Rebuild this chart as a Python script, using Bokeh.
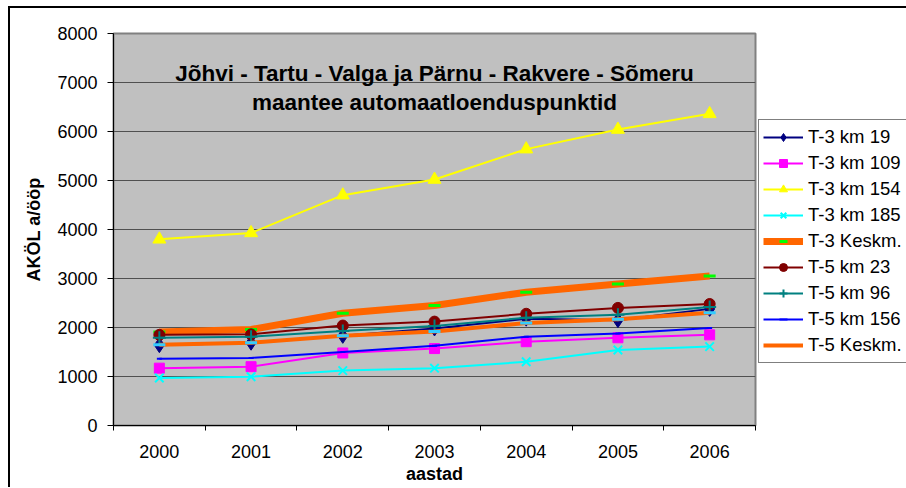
from bokeh.plotting import figure
from bokeh.models import (Legend, LegendItem, FixedTicker, Label, Range1d)
from bokeh.embed import file_html
from bokeh.resources import INLINE

years = [2000, 2001, 2002, 2003, 2004, 2005, 2006]
t3_km19 = [1640, 1690, 1830, 1980, 2180, 2150, 2380]
t3_km109 = [1170, 1200, 1480, 1570, 1710, 1790, 1850]
t3_km154 = [3800, 3930, 4700, 5020, 5640, 6040, 6360]
t3_km185 = [970, 995, 1120, 1170, 1300, 1540, 1610]
t3_kesk = [1910, 1960, 2290, 2450, 2720, 2890, 3050]
t5_km23 = [1850, 1860, 2040, 2120, 2280, 2400, 2480]
t5_km96 = [1790, 1810, 1930, 2030, 2200, 2260, 2420]
t5_km156 = [1360, 1380, 1500, 1630, 1810, 1880, 1990]
t5_kesk = [1650, 1690, 1830, 1920, 2090, 2170, 2300]

y_ticks = [0, 1000, 2000, 3000, 4000, 5000, 6000, 7000, 8000]
title_lines = ["Jõhvi - Tartu - Valga ja Pärnu - Rakvere - Sõmeru",
               "maantee automaatloenduspunktid"]
x_title = "aastad"
y_title = "AKÖL a/ööp"

FONT = "Liberation Sans"

p = figure(frame_width=642, frame_height=392, output_backend="svg", toolbar_location=None,
           x_range=Range1d(1999.5, 2006.5), y_range=Range1d(0, 8000),
           min_border_left=103, min_border_right=150, min_border_top=25,
           min_border_bottom=62)
p.styles = {"margin-left": "8px", "margin-top": "6px",
            "border-left": "2px solid black", "border-top": "2px solid black"}
p.background_fill_color = "#C0C0C0"
p.border_fill_color = "white"
p.outline_line_color = "#808080"
p.outline_line_width = 2

# axes
p.xaxis.ticker = FixedTicker(ticks=years, minor_ticks=[y - 0.5 for y in years] + [years[-1] + 0.5])
p.xaxis.major_tick_line_color = None
p.xaxis.major_tick_out = 0
p.xaxis.major_tick_in = 0
p.xaxis.minor_tick_out = 5
p.xaxis.minor_tick_in = 0
p.xaxis.minor_tick_line_color = "black"
p.xaxis.axis_line_color = "black"
p.xaxis.major_label_standoff = 14
p.xaxis.axis_label = x_title
p.xaxis.axis_label_standoff = 3

p.yaxis.ticker = FixedTicker(ticks=y_ticks)
p.yaxis.minor_tick_line_color = None
p.yaxis.major_tick_out = 6
p.yaxis.major_tick_in = 0
p.yaxis.major_label_standoff = 10
p.yaxis.axis_label = y_title
p.yaxis.axis_label_standoff = 10

for ax in (p.xaxis[0], p.yaxis[0]):
    ax.major_label_text_font = FONT
    ax.major_label_text_font_size = "18px"
    ax.major_label_text_color = "black"
    ax.axis_label_text_font = FONT
    ax.axis_label_text_font_size = "18px"
    ax.axis_label_text_font_style = "bold"
    ax.axis_label_text_color = "black"
    ax.axis_line_width = 1

p.xgrid.grid_line_color = None
p.ygrid.grid_line_color = "#505050"
p.ygrid.grid_line_width = 1.2

items = []

def series(label, vals, color, lw, marker=None, msize=10, mfill=True, mcolor=None, mlw=1, legend_marker=True):
    rs = []
    ln = p.line(years, vals, line_color=color, line_width=lw)
    rs.append(ln)
    if marker:
        mc = mcolor or color
        sc = p.scatter(years, vals, marker=marker, size=msize,
                       fill_color=mc if mfill else None, line_color=mc, line_width=mlw)
        if legend_marker:
            rs.append(sc)
    items.append(LegendItem(label=label, renderers=rs))

series("T-3 km 19", t3_km19, "#000080", 2, "diamond", 15)
series("T-3 km 109", t3_km109, "#FF00FF", 2, "square", 10)
series("T-3 km 154", t3_km154, "#FFFF00", 2, "triangle", 13)
series("T-3 km 185", t3_km185, "#00FFFF", 2, "x", 12, mfill=False, mlw=2)
series("T-3 Keskm.", t3_kesk, "#FF6600", 7, "dash", 12, mcolor="#00FF00", mlw=3)
series("T-5 km 23", t5_km23, "#800000", 2, "circle", 11)
series("T-5 km 96", t5_km96, "#008080", 2, "cross", 13, mfill=False, mlw=2)
series("T-5 km 156", t5_km156, "#0000FF", 2, "dash", 5, mlw=2)
series("T-5 Keskm.", t5_kesk, "#FF6600", 4, "dash", 12, mcolor="#33CCFF", mlw=3, legend_marker=False)

legend = Legend(items=items, location=(3, 62), orientation="vertical")
legend.margin = 0
legend.padding = 4
legend.spacing = 0
legend.label_height = 26
legend.glyph_height = 20
legend.glyph_width = 40
legend.label_standoff = 5
legend.label_text_font = FONT
legend.label_text_font_size = "18.5px"
legend.label_text_color = "black"
legend.border_line_color = "black"
legend.border_line_width = 1
legend.background_fill_color = "white"
legend.background_fill_alpha = 1
p.add_layout(legend, "right")

# chart title inside plot area
p.add_layout(Label(x=2003, y=7180, text=title_lines[0], text_align="center",
                   text_baseline="alphabetic", text_font=FONT, text_font_size="22.5px",
                   text_font_style="bold", text_color="black"))
p.add_layout(Label(x=2003, y=6600, text=title_lines[1], text_align="center",
                   text_baseline="alphabetic", text_font=FONT, text_font_size="22.5px",
                   text_font_style="bold", text_color="black"))

open("out.html", "w").write(file_html(p, INLINE))
